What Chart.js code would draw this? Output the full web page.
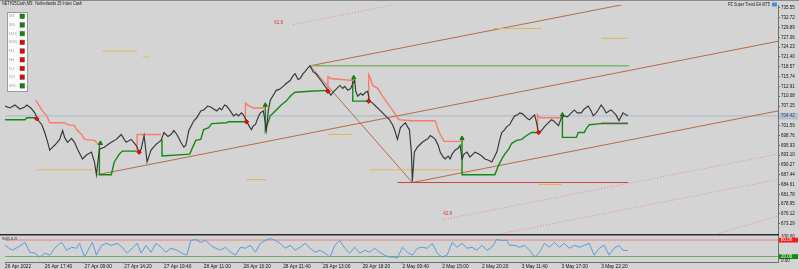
<!DOCTYPE html>
<html>
<head>
<meta charset="utf-8">
<script src="https://cdn.jsdelivr.net/npm/chart.js@4.4.1/dist/chart.umd.min.js"></script>
<style>
    html, body { margin: 0; padding: 0; background: #d4d4d4; }
    canvas { display: block; }
</style>
</head>
<body>
<canvas id="chart" width="799" height="269"></canvas>
<script>
// ============================================
// NETH25Cash M5 - price, PZ Super Trend, RSI(8)
// ============================================

// time axis (bar index -> label)
const timeTicks = [0, 40, 80, 120, 160, 200, 240, 280, 320, 360, 400, 440, 480, 520, 560, 600];
const timeLabels = ['26 Apr 2022', '26 Apr 17:40', '27 Apr 09:00', '27 Apr 14:20', '27 Apr 19:40',
    '28 Apr 11:00', '28 Apr 16:20', '28 Apr 21:40', '29 Apr 13:00', '29 Apr 18:20',
    '2 May 09:40', '2 May 15:00', '2 May 20:20', '3 May 11:40', '3 May 17:00', '3 May 22:20'];

// price axis
const priceTicks = [735.55, 732.72, 729.89, 727.06, 724.23, 721.40, 718.57, 715.74, 712.91, 710.08,
    707.25, 701.59, 698.76, 695.93, 693.10, 690.27, 687.44, 684.61, 681.78, 678.95, 676.12, 673.29];
const lastPrice = 704.42;

// close line
const priceBars = [
    0, 5, 10, 15, 20, 22, 26, 30, 33, 37,
    40, 43, 45, 48, 50, 55, 58, 60, 63, 67,
    70, 73, 78, 82, 87, 90, 92, 95, 100, 104,
    107, 112, 117, 120, 122, 127, 132, 135, 137, 140,
    143, 147, 152, 157, 160, 164, 167, 170, 173, 177,
    180, 182, 185, 188, 190, 193, 197, 200, 204, 207,
    210, 213, 216, 218, 221, 223, 226, 230, 233, 235,
    238, 240, 243, 246, 248, 250, 252, 255, 257, 260,
    262, 263, 265, 267, 270, 273, 276, 280, 283, 287,
    290, 292, 295, 297, 300, 302, 305, 307, 310, 313,
    315, 318, 320, 323, 325, 328, 330, 332, 335, 337,
    340, 342, 345, 348, 350, 352, 353, 355, 358, 360,
    363, 365, 367, 370, 373, 377, 380, 383, 387, 390,
    392, 395, 398, 400, 403, 405, 407, 409, 410, 412,
    415, 417, 420, 423, 426, 428, 431, 433, 436, 438,
    441, 443, 446, 448, 450, 453, 456, 458, 460, 462,
    465, 468, 470, 473, 477, 480, 483, 486, 490, 492,
    495, 498, 500, 503, 505, 508, 510, 513, 516, 518,
    521, 523, 526, 528, 531, 533, 535, 537, 540, 543,
    547, 550, 552, 555, 557, 560, 563, 566, 568, 571,
    573, 576, 580, 583, 587, 590, 592, 595, 597, 600,
    603, 605, 608, 610, 613, 615, 618, 620, 622, 625,
    627
];
const priceClose = [
    707.25, 706.69, 707.53, 706.40, 706.97, 707.53, 706.69, 705.27, 703.29, 701.87,
    699.61, 696.78, 694.52, 695.37, 695.93, 697.63, 700.18, 698.20, 696.78, 697.91,
    696.78, 694.80, 691.97, 693.10, 693.95, 691.12, 687.44, 694.80, 695.37, 696.21,
    696.78, 697.63, 699.04, 697.63, 696.78, 697.63, 695.93, 693.95, 694.80, 698.76,
    691.12, 694.52, 696.21, 697.35, 699.61, 698.48, 699.04, 700.18, 699.04, 696.78,
    695.37, 695.93, 700.18, 701.87, 703.01, 703.86, 705.84, 706.12, 707.25, 706.97,
    706.40, 705.84, 706.69, 706.12, 707.53, 707.25, 706.12, 704.42, 704.99, 704.42,
    705.27, 704.70, 703.01, 701.31, 700.46, 701.59, 701.87, 704.14, 705.27, 705.84,
    702.44, 700.18, 705.84, 708.95, 710.36, 711.78, 712.06, 712.91, 713.76, 714.61,
    716.02, 716.59, 714.89, 715.18, 716.59, 717.16, 718.29, 718.85, 717.16, 716.59,
    715.74, 714.61, 713.76, 712.63, 711.78, 710.36, 711.21, 711.78, 712.63, 713.19,
    712.35, 712.91, 711.78, 712.35, 713.76, 714.61, 711.50, 710.08, 710.93, 710.36,
    711.21, 711.50, 708.67, 708.10, 707.25, 706.12, 705.27, 704.42, 703.29, 701.87,
    700.46, 697.63, 701.03, 701.59, 702.44, 701.31, 700.46, 693.95, 685.46, 693.95,
    695.37, 695.93, 696.78, 697.35, 697.91, 698.76, 698.20, 697.63, 695.93, 693.95,
    692.54, 691.97, 692.82, 691.97, 693.38, 694.52, 695.08, 695.93, 691.97, 693.38,
    693.95, 692.54, 693.10, 693.95, 693.38, 692.82, 691.97, 691.69, 691.12, 692.25,
    693.95, 697.63, 699.61, 700.46, 701.31, 701.87, 703.01, 704.42, 704.70, 705.27,
    704.99, 704.42, 703.57, 703.29, 704.14, 704.70, 702.44, 699.61, 700.18, 701.31,
    702.44, 703.29, 703.01, 702.16, 701.59, 703.86, 704.42, 704.14, 704.70, 705.55,
    706.12, 705.27, 705.27, 706.40, 707.25, 705.84, 704.42, 705.27, 706.12, 707.53,
    706.40, 705.27, 705.84, 706.12, 705.27, 704.70, 703.01, 704.14, 705.27, 704.70,
    704.42
];

// super trend (null = break between segments)
const stUpBars = [0, 20, 22, 31, 31,
    95, 95, 107, 110, 115, 118, 133, 133,
    158, 158, 186, 188, 192, 197, 200, 205, 208, 223, 225, 241, 241,
    262, 262, 267, 273, 278, 283, 288, 292, 307, 325, 325,
    350, 350, 365, 365,
    460, 460, 493, 497, 500, 503, 507, 510, 515, 520, 525, 530, 536, 536,
    561, 561, 575, 577, 583, 585, 588, 600, 627];
const stUpVals = [703.29, 703.29, 703.86, 703.86, null,
    695.93, 687.44, 687.44, 691.12, 693.38, 694.23, 694.23, null,
    697.63, 692.82, 693.38, 694.80, 697.35, 697.63, 700.46, 701.03, 702.16, 702.44, 702.72, 702.72, null,
    707.25, 700.18, 704.42, 706.12, 707.53, 708.67, 710.36, 711.21, 711.50, 711.78, null,
    715.18, 708.67, 708.67, null,
    697.63, 687.44, 687.44, 690.27, 691.97, 693.38, 694.80, 696.50, 697.35, 697.63, 698.76, 699.61, 699.61, null,
    704.42, 698.20, 698.20, 699.61, 699.61, 700.74, 701.87, 702.16, 702.16];
const stDnBars = [31, 37, 42, 45, 60, 63, 70, 72, 77, 80, 90, 95, 95,
    133, 133, 157, 157,
    242, 242, 246, 250, 262, 262,
    325, 325, 328, 350, 350,
    366, 366, 368, 370, 375, 380, 387, 392, 395, 397, 410, 433, 437, 442, 460, 460,
    536, 536, 538, 560];
const stDnVals = [708.95, 706.12, 704.42, 702.44, 702.44, 701.87, 701.59, 700.46, 699.04, 697.63, 697.35, 695.93, null,
    694.23, 699.04, 699.04, null,
    702.72, 708.10, 707.25, 706.69, 706.69, null,
    711.50, 715.74, 715.18, 714.61, null,
    708.67, 716.31, 715.18, 713.19, 712.35, 710.08, 707.25, 705.27, 703.86, 703.29, 703.01, 703.01, 699.61, 697.06, 697.06, null,
    699.61, 704.70, 703.86, 703.86];

// signals
const buyBars = [96, 262, 351, 460, 561];
const buyVals = [696.50, 707.53, 715.46, 697.91, 704.70];
const sellBars = [32, 135, 243, 325, 366, 537];
const sellVals = [703.57, 693.95, 702.72, 711.50, 708.67, 699.61];

// drawn objects: [bar1, price1, bar2, price2]
const channelLines = [
    [93, 687.44, 778, 725.93],
    [307, 718.85, 640, 737.53],
    [410, 685.18, 778, 705.84],
    [307, 718.85, 410, 685.18]
];
const fiboLines = [
    [290, 730.74, 390, 736.40],
    [440, 674.42, 778, 693.38],
    [500, 670.46, 778, 686.03],
    [718, 670.46, 778, 675.55]
];
const fiboLabels = ['61.8', '42.9'];
const fiboLabelBars = [271, 441];
const fiboLabelVals = [731.31, 676.12];

// horizontal levels: [bar1, bar2, price]
const goldLevels = [[98, 133, 723.10], [139, 145, 721.40], [32, 88, 688.86], [243, 263, 686.03],
    [325, 350, 699.04], [367, 460, 688.86], [492, 540, 729.61], [600, 627, 726.78], [537, 560, 684.61]];
const greenLevel = [307, 628, 718.85];
const redLevel = [395, 627, 685.18];
const violetLevel = [600, 627, 702.44];

// RSI(8)
const rsiBars = [
    0, 7, 13, 20, 25, 30, 35, 40, 45, 50,
    53, 57, 62, 67, 72, 75, 80, 85, 88, 92,
    97, 102, 107, 113, 118, 123, 128, 133, 137, 142,
    147, 152, 157, 162, 167, 173, 178, 183, 187, 192,
    197, 202, 207, 212, 217, 222, 227, 232, 237, 242,
    247, 252, 257, 262, 267, 272, 277, 282, 287, 292,
    297, 302, 307, 312, 317, 322, 327, 332, 337, 342,
    347, 352, 357, 362, 367, 372, 377, 382, 387, 392,
    395, 400, 405, 410, 415, 420, 425, 430, 435, 440,
    445, 450, 455, 460, 465, 470, 475, 480, 485, 490,
    495, 500, 505, 508, 513, 518, 523, 528, 533, 538,
    543, 548, 553, 558, 563, 568, 573, 578, 583, 588,
    593, 598, 603, 608, 613, 618, 622, 627
];
const rsiVals = [
    60.7, 42.9, 53.6, 71.4, 35.7, 32.1, 17.9, 32.1, 25.0, 50.0,
    60.7, 71.4, 42.9, 53.6, 50.0, 67.9, 17.9, 53.6, 71.4, 25.0,
    60.7, 67.9, 60.7, 67.9, 53.6, 32.1, 50.0, 67.9, 32.1, 60.7,
    35.7, 67.9, 53.6, 35.7, 50.0, 42.9, 32.1, 25.0, 78.6, 82.1,
    71.4, 78.6, 60.7, 50.0, 42.9, 53.6, 35.7, 25.0, 53.6, 50.0,
    60.7, 35.7, 67.9, 78.6, 85.7, 78.6, 67.9, 50.0, 60.7, 42.9,
    53.6, 67.9, 50.0, 35.7, 42.9, 32.1, 17.9, 60.7, 78.6, 50.0,
    32.1, 53.6, 32.1, 42.9, 35.7, 50.0, 35.7, 25.0, 17.9, 17.9,
    14.3, 53.6, 35.7, 25.0, 50.0, 53.6, 50.0, 67.9, 32.1, 17.9,
    25.0, 71.4, 53.6, 67.9, 50.0, 53.6, 42.9, 60.7, 42.9, 53.6,
    82.1, 78.6, 78.6, 60.7, 60.7, 53.6, 60.7, 42.9, 17.9, 35.7,
    67.9, 53.6, 71.4, 53.6, 67.9, 50.0, 60.7, 53.6, 60.7, 67.9,
    25.0, 50.0, 60.7, 25.0, 50.0, 60.7, 42.9, 41.3
];
const rsiLevels = [80, 20];
const rsiLast = '41.29';

// multi timeframe panel
const tfNames = ['M1', 'M5', 'M15', 'M30', 'H1', 'H4', 'D1', 'W1', 'MN'];
const tfTrend = [1, 1, 1, -1, -1, -1, -1, -1, 1];

const FONT = '"Liberation Sans", Arial, sans-serif';

function toPoints(xs, ys) {
    return xs.map((x, i) => ({ x: x, y: ys[i] }));
}

function lineSegments(list) {
    const pts = [];
    list.forEach(s => {
        pts.push({ x: s[0], y: s[1] }, { x: s[2], y: s[3] }, { x: s[2], y: null });
    });
    return pts;
}

function levelSegments(list) {
    const pts = [];
    list.forEach(s => {
        pts.push({ x: s[0], y: s[2] }, { x: s[1], y: s[2] }, { x: s[1], y: null });
    });
    return pts;
}

function lineSet(data, color, width, extra) {
    return Object.assign({
        data: data,
        borderColor: color,
        borderWidth: width,
        pointRadius: 0,
        fill: false,
        tension: 0
    }, extra || {});
}

const overlay = {
    id: 'overlay',
    beforeDraw(chart) {
        const c = chart.ctx;
        c.save();
        c.fillStyle = '#d4d4d4';
        c.fillRect(0, 0, chart.width, chart.height);
        c.restore();
    },
    afterDraw(chart) {
        const c = chart.ctx;
        const area = chart.chartArea;
        const xs = chart.scales.x, yp = chart.scales.y, yr = chart.scales.yRsi;
        c.save();

        // window frame + pane separator
        c.fillStyle = '#8a8a8a';
        c.fillRect(0, 0, chart.width, 1);
        c.fillStyle = '#2c2c2c';
        c.fillRect(0, Math.round(yr.getPixelForValue(100)) - 1, area.right + 1, 1.5);

        c.textBaseline = 'middle';
        c.textAlign = 'left';

        // current price tag
        const py = yp.getPixelForValue(lastPrice);
        c.fillStyle = '#b3bfcc';
        c.fillRect(area.right + 1, py - 3, 19, 6.5);
        c.fillStyle = '#2d4a70';
        c.font = '4.5px ' + FONT;
        c.fillText(lastPrice.toFixed(2), area.right + 3, py + 0.3);

        // RSI scale labels
        c.fillStyle = '#111';
        c.fillText('100.00', area.right + 3, yr.getPixelForValue(100) + 2.5);
        const lvColors = ['#ff1a1a', '#0f8a0f'];
        rsiLevels.forEach((lv, i) => {
            const ly = yr.getPixelForValue(lv);
            c.fillStyle = lvColors[i];
            c.fillRect(area.right + 1, ly - 2.3, 19, 4.8);
            c.fillStyle = '#fff';
            c.fillText(lv.toFixed(2), area.right + 3, ly + 0.2);
        });
        c.fillStyle = '#111';
        c.fillText('0.00', area.right + 3, yr.getPixelForValue(0) - 1.5);

        // titles
        c.fillStyle = '#222';
        c.font = '4.6px ' + FONT;
        c.fillText('NETH25Cash,M5:  Netherlands 25 Index Cash', 2, 3.6, 80);
        c.fillText('PZ Super Trend EA MT5', 728, 4.8, 42);
        c.fillStyle = '#4a8fd6';
        c.fillRect(772, 2.5, 5, 4);
        c.fillStyle = '#333';
        c.font = '4.2px ' + FONT;
        c.fillText('RSI(8) ' + rsiLast, 2, yr.getPixelForValue(100) + 4, 15);

        // fibo labels
        c.fillStyle = '#e03030';
        c.font = '4.5px ' + FONT;
        fiboLabels.forEach((t, i) => {
            c.fillText(t, xs.getPixelForValue(fiboLabelBars[i]), yp.getPixelForValue(fiboLabelVals[i]));
        });

        // timeframe trend panel
        c.fillStyle = '#fbfbfb';
        c.fillRect(7, 12, 20, 79);
        c.strokeStyle = '#9c9c9c';
        c.lineWidth = 1;
        c.strokeRect(7.5, 12.5, 20, 79);
        c.font = '4.2px ' + FONT;
        tfNames.forEach((name, i) => {
            const ry = 16.2 + i * 8.7;
            c.fillStyle = '#a8a8a8';
            c.fillText(name, 9, ry, 9);
            c.fillStyle = tfTrend[i] > 0 ? '#0a8a0a' : '#f20000';
            c.fillRect(20, ry - 2.2, 4.5, 4.5);
            c.strokeStyle = '#505050';
            c.lineWidth = 0.5;
            c.strokeRect(20, ry - 2.2, 4.5, 4.5);
        });
        c.restore();
    }
};

const ctx = document.getElementById('chart');

new Chart(ctx, {
    type: 'line',
    data: {
        datasets: [
            lineSet(toPoints(buyBars, buyVals), '#0a7a0a', 1, {
                showLine: false, pointRadius: 2.4, pointStyle: 'triangle',
                pointBackgroundColor: '#0a8a0a', pointBorderColor: '#0a7a0a'
            }),
            lineSet(toPoints(sellBars, sellVals), '#e00000', 1, {
                showLine: false, pointRadius: 2.2, pointStyle: 'rectRot',
                pointBackgroundColor: '#ee1111', pointBorderColor: '#c00000'
            }),
            lineSet(toPoints(priceBars, priceClose), '#363636', 1.15),
            lineSet(toPoints(stDnBars, stDnVals), '#fa7b6a', 1.4),
            lineSet(toPoints(stUpBars, stUpVals), '#128a12', 1.4),
            lineSet(levelSegments([violetLevel]), '#c46ac4', 1),
            lineSet(levelSegments([greenLevel]), '#7fb46a', 1.5),
            lineSet(levelSegments([redLevel]), '#c8463c', 1),
            lineSet(levelSegments(goldLevels), '#e2b45a', 1),
            lineSet(lineSegments(channelLines), '#b86a44', 1),
            lineSet(lineSegments(fiboLines), '#e58a8a', 1, { borderDash: [1, 2] }),
            lineSet(levelSegments([[0, 778, lastPrice]]), '#bac4cf', 1.8),
            lineSet(toPoints(rsiBars, rsiVals), '#5a9be0', 1, { yAxisID: 'yRsi' }),
            lineSet(levelSegments([[0, 778, rsiLevels[0]]]), '#e58080', 1, { yAxisID: 'yRsi' }),
            lineSet(levelSegments([[0, 778, rsiLevels[1]]]), '#6cb05c', 1, { yAxisID: 'yRsi' })
        ]
    },
    options: {
        responsive: false,
        animation: false,
        events: [],
        layout: { padding: 0 },
        plugins: {
            legend: { display: false },
            tooltip: { enabled: false }
        },
        scales: {
            x: {
                type: 'linear',
                min: 0,
                max: 778,
                afterBuildTicks: s => { s.ticks = timeTicks.map(v => ({ value: v })); },
                afterFit: s => {
                    s.height = 7;
                    s.paddingLeft = s.paddingRight = s.paddingTop = s.paddingBottom = 0;
                },
                ticks: {
                    callback: (v, i) => timeLabels[i],
                    autoSkip: false,
                    maxRotation: 0,
                    minRotation: 0,
                    align: 'start',
                    padding: 0,
                    color: '#111',
                    font: { size: 4.8, family: FONT }
                },
                grid: { drawOnChartArea: false, tickLength: 1.5, color: '#666' },
                border: { color: '#707070', width: 1 }
            },
            y: {
                position: 'right',
                min: 662.25,
                max: 736.40,
                afterBuildTicks: s => { s.ticks = priceTicks.map(v => ({ value: v })); },
                afterFit: s => {
                    s.width = 21;
                    s.paddingLeft = s.paddingRight = s.paddingTop = s.paddingBottom = 0;
                },
                ticks: {
                    callback: v => v.toFixed(2),
                    autoSkip: false,
                    padding: 1,
                    color: '#111',
                    font: { size: 4.5, family: FONT }
                },
                grid: { drawOnChartArea: false, tickLength: 2, color: '#666' },
                border: { color: '#707070', width: 1 }
            },
            yRsi: {
                type: 'linear',
                axis: 'y',
                position: 'right',
                display: false,
                min: 0,
                max: 935.71
            }
        }
    },
    plugins: [overlay]
});
</script>
</body>
</html>
